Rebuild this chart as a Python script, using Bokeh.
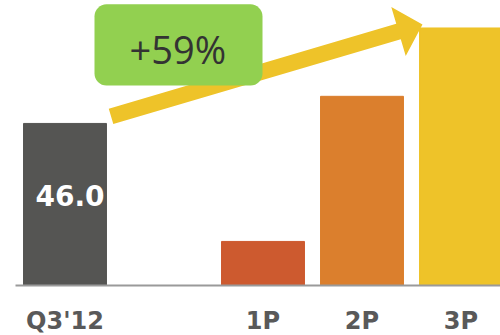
from bokeh.plotting import figure
from bokeh.models import ColumnDataSource, BoxAnnotation, Label
from bokeh.core.properties import value
from bokeh.embed import file_html
from bokeh.resources import INLINE
import math

# ---- data ----
categories = ["Q3'12", "", "1P", "2P", "3P"]
values = [46.0, None, 12.5, 53.7, 73.1]
colors = ["#555553", None, "#cd5a2f", "#db7f2d", "#eec329"]
value_label = "46.0"
growth_label = "+59%"

W, H = 500, 335
x0, x1 = -0.6515, 4.399
y0, y1 = -14.2, 80.9
sx = W / (x1 - x0)
sy = H / (y1 - y0)

p = figure(width=W, height=H, x_range=(x0, x1), y_range=(y0, y1),
           min_border=0, toolbar_location=None, output_backend="svg")
p.axis.visible = False
p.grid.visible = False
p.outline_line_color = None
p.background_fill_color = "white"
p.border_fill_color = "white"

xs = [i for i, v in enumerate(values) if v is not None]
src = ColumnDataSource(dict(
    x=xs,
    top=[values[i] for i in xs],
    color=[colors[i] for i in xs],
))
p.vbar(x="x", top="top", bottom=0, width=0.838, color="color", source=src)

# baseline
p.segment(x0=-0.5, y0=0, x1=x1 + 1, y1=0, line_color="#9a9a9a", line_width=2)

# category labels
lab_src = ColumnDataSource(dict(x=list(range(len(categories))), text=categories,
                                y=[-10.0] * len(categories)))
p.text(x="x", y="y", text="text", source=lab_src, text_align="center",
       text_baseline="middle", text_font=value("DejaVu Sans"),
       text_font_style="bold", text_font_size="24px", text_color="#595959")

# value label inside first bar
p.text(x=[0], y=[values[0] / 2], text=[value_label], x_offset=5, y_offset=-9,
       text_align="center", text_baseline="middle", text_font=value("DejaVu Sans"),
       text_font_style="bold", text_font_size="28px", text_color="white")

# arrow from first bar to top of last bar (computed in pixel space)
start = (0.465, values[0] + 2.0)
tip = (4 - 0.419 + 0.03, values[4] + 1.0)
def to_px(pt):
    return ((pt[0] - x0) * sx, (pt[1] - y0) * sy)
def to_data(pt):
    return (pt[0] / sx + x0, pt[1] / sy + y0)
s_px, t_px = to_px(start), to_px(tip)
dx, dy = t_px[0] - s_px[0], t_px[1] - s_px[1]
L = math.hypot(dx, dy)
ux, uy = dx / L, dy / L
nx, ny = -uy, ux
hw, head_len, head_hw = 8, 25, 25.5
base = (t_px[0] - head_len * ux, t_px[1] - head_len * uy)
poly = [
    (s_px[0] + hw * nx, s_px[1] + hw * ny),
    (base[0] + hw * nx, base[1] + hw * ny),
    (base[0] + head_hw * nx, base[1] + head_hw * ny),
    t_px,
    (base[0] - head_hw * nx, base[1] - head_hw * ny),
    (base[0] - hw * nx, base[1] - hw * ny),
    (s_px[0] - hw * nx, s_px[1] - hw * ny),
]
poly_d = [to_data(q) for q in poly]
p.patch([q[0] for q in poly_d], [q[1] for q in poly_d], color="#eec329", line_width=0)

# green badge
box = BoxAnnotation(left=0.298, right=1.995, top=79.8, bottom=56.8,
                    fill_color="#92d050", fill_alpha=1.0, line_color=None,
                    border_radius=12)
p.add_layout(box)
p.add_layout(Label(x=1.14, y=67.2, text=growth_label, text_align="center",
                   text_baseline="middle", text_font="Open Sans",
                   text_font_size="38px", text_color="#333333"))

open("out.html", "w").write(file_html(p, INLINE))
